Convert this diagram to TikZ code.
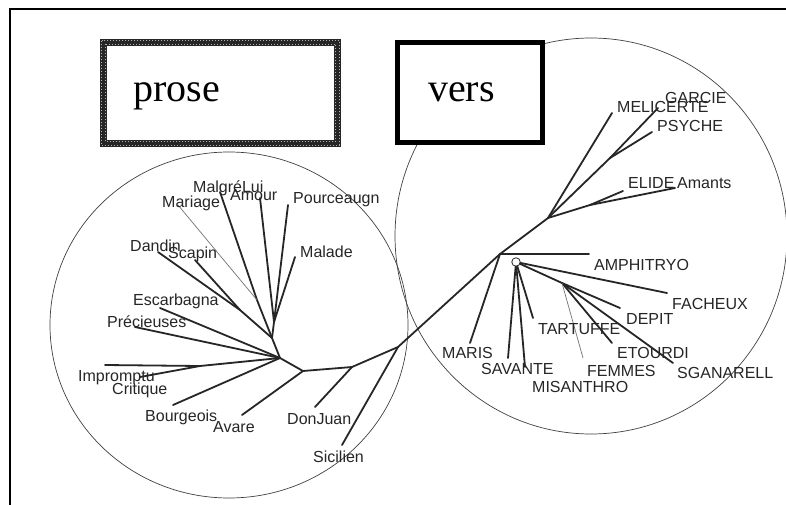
\documentclass[tikz,border=0pt]{standalone}
\usepackage{fontspec}
\setmainfont{Liberation Serif}
\newfontfamily\lblfont{Liberation Sans}

\begin{document}
\begin{tikzpicture}[x=1pt,y=-1pt,
  branch/.style={line width=1.8pt, draw=black!85, line cap=round},
  thinbranch/.style={line width=0.7pt, draw=black!55},
  ring/.style={line width=0.7pt, draw=black!75},
  lbl/.style={anchor=base west, inner sep=0pt, text=black!85,
              font=\lblfont\fontsize{16}{18}\selectfont},
  title/.style={anchor=base west, inner sep=0pt,
              font=\rmfamily\fontsize{40}{44}\selectfont},
  hub/.style={circle, draw=black!85, line width=0.8pt, minimum size=8.5pt, inner sep=0pt},
]
\useasboundingbox (0,0) rectangle (786,505);
\fill[white] (0,0) rectangle (786,505);

% outer frame
\draw[line width=2.6pt] (10,505) -- (10,9) -- (786,9);

% the two groups
\draw[ring] (229,325) ellipse [x radius=179, y radius=173];
\draw[ring] (591,236) ellipse [x radius=196, y radius=198];

% group headers
\draw[line width=7pt, draw=black!85] (103.5,42.5) rectangle (337.5,143.5);
\draw[line width=1pt, white!70!black, dash pattern=on 1pt off 2pt] (101.7,40.7) rectangle (339.3,145.3);
\draw[line width=1pt, white!70!black, dash pattern=on 1pt off 2pt] (105.3,44.3) rectangle (335.7,141.7);
\node[title] (prose) at (133,102) {prose};

\draw[line width=5pt, fill=white] (397.5,42.5) rectangle (542.5,142.5);
\node[title] (vers) at (428,102) {vers};

% ---------- prose tree: internal points ----------
\coordinate (L1) at (280,358);
\coordinate (L2) at (272,338);
\coordinate (L3) at (274,322);
\coordinate (L4) at (257,300);
\coordinate (L5) at (240,310);
\coordinate (L6) at (200,366);
\coordinate (L7) at (303,371);
\coordinate (L8) at (352,367);
\coordinate (L9) at (398,347);
% leaves
\coordinate (mal) at (220,192);
\coordinate (amo) at (260,198);
\coordinate (pou) at (288,205);
\coordinate (mld) at (295,257);
\coordinate (mar) at (178,205);
\coordinate (dan) at (158,252);
\coordinate (sca) at (195,260);
\coordinate (esc) at (160,308);
\coordinate (pre) at (135,327);
\coordinate (imp) at (105,365);
\coordinate (cri) at (140,377);
\coordinate (bou) at (173,405);
\coordinate (ava) at (242,415);
\coordinate (don) at (315,407);
\coordinate (sic) at (342,445);

% ---------- vers tree: internal points ----------
\coordinate (R1) at (500,254);
\node[hub] (C) at (516,262) {};
\coordinate (R3) at (562,283);
\coordinate (R4) at (548,218);
\coordinate (R6) at (610,158);
\coordinate (R7) at (590,205);
% leaves
\coordinate (amp) at (589,254);
\coordinate (mrs) at (470,343);
\coordinate (sav) at (508,358);
\coordinate (mis) at (525,367);
\coordinate (tar) at (533,318);
\coordinate (fac) at (667,293);
\coordinate (dep) at (620,308);
\coordinate (eto) at (612,343);
\coordinate (sga) at (673,363);
\coordinate (fem) at (583,358);
\coordinate (mel) at (612,113);
\coordinate (gar) at (658,108);
\coordinate (psy) at (652,132);
\coordinate (eli) at (623,191);
\coordinate (ama) at (675,188);

% ---------- branches ----------
\draw[branch] (L1) -- (L2) -- (L3);
\draw[branch] (L3) -- (amo);
\draw[branch] (L3) -- (pou);
\draw[branch] (L3) -- (mld);
\draw[branch] (L2) -- (L4) -- (mal);
\draw[thinbranch] (L4) -- (mar);
\draw[branch] (L2) -- (L5);
\draw[branch] (L5) -- (dan);
\draw[branch] (L5) -- (sca);
\draw[branch] (L1) -- (esc);
\draw[branch] (L1) -- (pre);
\draw[branch] (L1) -- (L6);
\draw[branch] (L6) -- (imp);
\draw[branch] (L6) -- (cri);
\draw[branch] (L1) -- (bou);
\draw[branch] (L1) -- (L7) -- (L8) -- (L9) -- (R1);
\draw[branch] (L7) -- (ava);
\draw[branch] (L8) -- (don);
\draw[branch] (L9) -- (sic);

\draw[branch] (R1) -- (amp);
\draw[branch] (R1) -- (mrs);
\draw[branch] (R1) -- (R4);
\draw[branch] (R4) -- (mel);
\draw[branch] (R4) -- (R6);
\draw[branch] (R6) -- (gar);
\draw[branch] (R6) -- (psy);
\draw[branch] (R4) -- (R7);
\draw[branch] (R7) -- (eli);
\draw[branch] (R7) -- (ama);
\draw[branch] (C) -- (sav);
\draw[branch] (C) -- (mis);
\draw[branch] (C) -- (tar);
\draw[branch] (C) -- (fac);
\draw[branch] (C) -- (R3);
\draw[branch] (R3) -- (dep);
\draw[branch] (R3) -- (eto);
\draw[branch] (R3) -- (sga);
\draw[thinbranch] (R3) -- (fem);

% ---------- labels ----------
\node[lbl] (tMal) at (193,192) {MalgréLui};
\node[lbl] (tAmo) at (230,200) {Amour};
\node[lbl] (tMar) at (162,207) {Mariage};
\node[lbl] (tPou) at (293,203) {Pourceaugn};
\node[lbl] (tMld) at (300,257) {Malade};
\node[lbl] (tDan) at (130,251) {Dandin};
\node[lbl] (tSca) at (168,258) {Scapin};
\node[lbl] (tEsc) at (133,305) {Escarbagna};
\node[lbl] (tPre) at (107,327) {Précieuses};
\node[lbl] (tImp) at (78,381) {Impromptu};
\node[lbl] (tCri) at (112,394) {Critique};
\node[lbl] (tBou) at (145,421) {Bourgeois};
\node[lbl] (tAva) at (213,432) {Avare};
\node[lbl] (tDon) at (287,424) {DonJuan};
\node[lbl] (tSic) at (313,462) {Sicilien};

\node[lbl] (tMel) at (617,113) {MELICERTE};
\node[lbl] (tGar) at (665,104) {GARCIE};
\node[lbl] (tPsy) at (657,132) {PSYCHE};
\node[lbl] (tEli) at (628,189) {ELIDE};
\node[lbl] (tAma) at (677,188) {Amants};
\node[lbl] (tAmp) at (594,270) {AMPHITRYO};
\node[lbl] (tFac) at (672,309) {FACHEUX};
\node[lbl] (tDep) at (626,324) {DEPIT};
\node[lbl] (tTar) at (538,334) {TARTUFFE};
\node[lbl] (tEto) at (617,358) {ETOURDI};
\node[lbl] (tMrs) at (442,358) {MARIS};
\node[lbl] (tSav) at (481,374) {SAVANTE};
\node[lbl] (tFem) at (587,376) {FEMMES};
\node[lbl] (tSga) at (677,378) {SGANARELL};
\node[lbl] (tMis) at (532,392) {MISANTHRO};
\end{tikzpicture}
\end{document}
